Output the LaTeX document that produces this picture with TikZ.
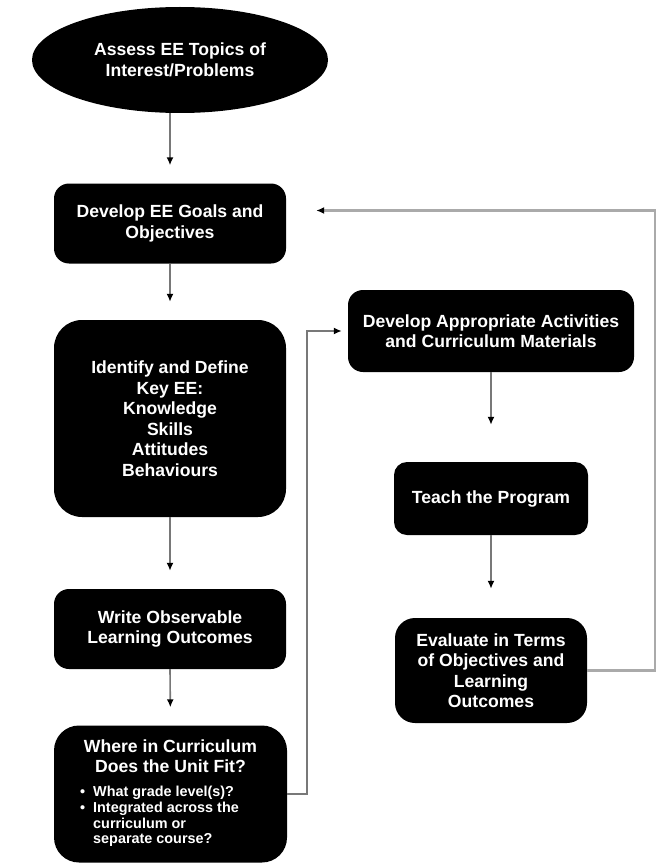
\documentclass[tikz,border=0pt]{standalone}
\usepackage{fontspec}
\setmainfont{Liberation Sans}
\usetikzlibrary{shapes.geometric,arrows.meta}
\begin{document}
\begin{tikzpicture}[x=1pt,y=-1pt,
  stepbox/.style={fill=black, text=white, rounded corners=15pt, align=center,
    font=\bfseries\fontsize{17.6}{20.5}\selectfont},
  flow/.style={draw={rgb,255:red,120;green,120;blue,120}, line width=1.6pt,
    -{Latex[length=8pt,width=7pt,color=black]}},
  back/.style={flow, draw={rgb,255:red,170;green,170;blue,170}, line width=2.4pt}]
\useasboundingbox (0,0) rectangle (658,864);
\node[stepbox, ellipse, minimum width=296pt, minimum height=106pt] (assess) at (180,60)
  {Assess EE Topics of\\Interest/Problems};
\node[stepbox, minimum width=232pt, minimum height=80pt] (goals) at (170,223.5)
  {Develop EE Goals and\\Objectives};
\node[stepbox, rounded corners=28pt, minimum width=232pt, minimum height=197pt] (identify) at (170,418.5)
  {Identify and Define\\Key EE:\\Knowledge\\Skills\\Attitudes\\Behaviours};
\node[stepbox, minimum width=232pt, minimum height=80pt] (write) at (170,629)
  {Write Observable\\Learning Outcomes};
\node[stepbox, rounded corners=25pt, minimum width=233pt, minimum height=137pt] (where) at (170.5,794)
  {Where in Curriculum\\Does the Unit Fit?\\[12pt]
   \hspace*{-22pt}{\fontsize{14.4}{15.6}\selectfont
   \begin{tabular}{@{}l@{\hspace{8pt}}l@{}}
   \textbullet & What grade level(s)?\\
   \textbullet & Integrated across the\\
   & curriculum or\\
   & separate course?
   \end{tabular}}};
\node[stepbox, minimum width=286pt, minimum height=82pt] (activities) at (491,331)
  {Develop Appropriate Activities\\and Curriculum Materials};
\node[stepbox, rounded corners=13pt, minimum width=194pt, minimum height=73pt] (teach) at (491,498.5)
  {Teach the Program};
\node[stepbox, rounded corners=20pt, minimum width=192pt, minimum height=105pt] (evaluate) at (491,670.5)
  {Evaluate in Terms\\of Objectives and\\Learning\\Outcomes};
\coordinate (rim) at (655,0);
\coordinate (bend) at (307,0);
\draw[flow, shorten >=18pt] (assess.south -| goals.north) -- (goals.north);
\draw[flow, shorten >=18pt] (goals.south) -- (identify.north);
\draw[flow, shorten >=18pt] (identify.south) -- (write.north);
\draw[flow, shorten >=18pt] (write.south) -- (where.north);
\draw[flow, shorten >=37pt] (activities.south) -- (teach.north);
\draw[flow, shorten >=29pt] (teach.south) -- (evaluate.north);
\draw[flow, shorten >=6pt] (where.east) -- (where.east -| bend) -- (activities.west -| bend) -- (activities.west);
\draw[back, shorten >=30pt] (evaluate.east) -- (evaluate.east -| rim) -- ([yshift=13pt]goals.east -| rim) -- ([yshift=13pt]goals.east);
\end{tikzpicture}
\end{document}
